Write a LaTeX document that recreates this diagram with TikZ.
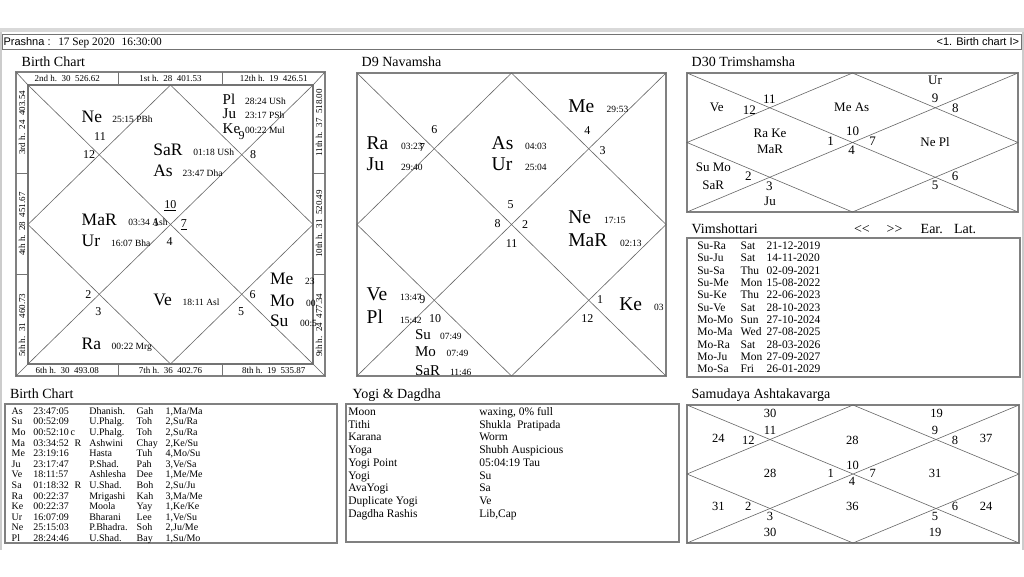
\documentclass[tikz,border=0pt]{standalone}
\usepackage{fontspec}
\setmainfont{Liberation Serif}
\newfontfamily\arialf{Liberation Sans}
\newcommand\fsz[1]{\fontsize{#1}{#1}\selectfont}
\newcommand\nichart[4]{%
  \draw[cl] (#1,#2) -- (#3,#4) (#3,#2) -- (#1,#4);
  \draw[cl] ({(#1+#3)/2},#2) -- (#3,{(#2+#4)/2}) -- ({(#1+#3)/2},#4) -- (#1,{(#2+#4)/2}) -- cycle;}
\newcommand\brow[7]{%
  \pgfmathsetmacro\yy{414.3+10.6*(#1-1)}%
  \node[tb] (bta#1) at (11.7,\yy) {#2};
  \node[tb] (btb#1) at (33.3,\yy) {#3};
  \node[tb] (btc#1) at (70.5,\yy) {#4};
  \node[tb] (btd#1) at (89.3,\yy) {#5};
  \node[tb] (bte#1) at (136.7,\yy) {#6};
  \node[tb] (btf#1) at (165.7,\yy) {#7};}
\newcommand\yrow[3]{%
  \pgfmathsetmacro\yy{415.5+12.7*(#1-1)}%
  \node[yt] (ya#1) at (348.3,\yy) {#2};
  \node[yt] (yb#1) at (479.3,\yy) {#3};}
\begin{document}
\begin{tikzpicture}[x=1pt,y=-1pt,
  every node/.style={inner sep=0pt,outer sep=0pt},
  ttl/.style={anchor=base west,font=\fsz{14}},
  big/.style={anchor=base west,font=\fsz{17.5}},
  medb/.style={anchor=base west,font=\fsz{15}},
  bigD/.style={anchor=base west,font=\fsz{19.5}},
  midD/.style={anchor=base west,font=\fsz{15}},
  sm/.style={anchor=base west,font=\fsz{9.5}},
  hn/.style={font=\fsz{12}},
  dn/.style={font=\fsz{13}},
  band/.style={font=\fsz{9}},
  tb/.style={anchor=base west,font=\fsz{10}},
  yt/.style={anchor=base west,font=\fsz{11.5}},
  vt/.style={anchor=base west,font=\fsz{11.5}},
  frame/.style={draw=black!50,line width=2.2pt},
  inframe/.style={draw=black!55,line width=1.2pt},
  boxf/.style={draw=black!50,line width=1.4pt},
  cl/.style={draw=black!60,line width=0.6pt}]
\useasboundingbox (0,0) rectangle (1024,576);
\fill[white] (0,0) rectangle (1024,576);
% window chrome
\fill[black!15] (0,28) rectangle (1024,32);
\draw[black!20,line width=2pt] (1,32) -- (1,550);
\draw[black!20,line width=2pt] (1023,32) -- (1023,550);
\draw[black!55,line width=0.8pt,fill=white] (2.5,34.5) rectangle (1021.5,49);
\node[anchor=base west,font=\arialf\fsz{11}] (prl) at (3.5,45) {Prashna :};
\node[anchor=base west,font=\fsz{11.3}] (prd) at (58.3,45) {17 Sep 2020};
\node[anchor=base west,font=\fsz{11.3}] (prt) at (121.7,45) {16:30:00};
\node[anchor=base east,font=\arialf\fsz{11}] (prr) at (1019,45) {<1. Birth chart I>};

% ===== Birth chart =====
\node[ttl] (t1) at (21.7,66.7) {Birth Chart};
\coordinate (oTL) at (16,72); \coordinate (oTR) at (325,72);
\coordinate (oBL) at (16,376); \coordinate (oBR) at (325,376);
\coordinate (iTL) at (28,85); \coordinate (iTR) at (313,85);
\coordinate (iBL) at (28,364); \coordinate (iBR) at (313,364);
\draw[frame] (oTL) rectangle (oBR);
\draw[inframe] (iTL) rectangle (iBR);
\draw[cl] (oTL) -- (iTL) (oTR) -- (iTR) (oBL) -- (iBL) (oBR) -- (iBR);
\draw[inframe,line width=0.8pt] (118.7,72) -- (118.7,85) (222.3,72) -- (222.3,85)
  (118.7,364) -- (118.7,376) (222.3,364) -- (222.3,376)
  (16,173.3) -- (28,173.3) (16,274.7) -- (28,274.7)
  (313,173.3) -- (325,173.3) (313,274.7) -- (325,274.7);
\nichart{28}{85}{313}{364}
% band labels
\node[band] (h2) at (67.3,78.7) {2nd h.~~30~~526.62};
\node[band] (h1) at (170.5,78.7) {1st h.~~28~~401.53};
\node[band] (h12) at (273.7,78.7) {12th h.~~19~~426.51};
\node[band] (h6) at (67.3,370.2) {6th h.~~30~~493.08};
\node[band] (h7) at (170.5,370.2) {7th h.~~36~~402.76};
\node[band] (h8) at (273.7,370.2) {8th h.~~19~~535.87};
\node[band,rotate=90] (h3) at (22,122.7) {3rd h.~~24~~403.54};
\node[band,rotate=90] (h4) at (22,224) {4th h.~~28~~451.67};
\node[band,rotate=90] (h5) at (22,325.3) {5th h.~~31~~460.73};
\node[band,rotate=90] (h11) at (319,122.7) {11th h.~~37~~518.00};
\node[band,rotate=90] (h10) at (319,224) {10th h.~~31~~520.49};
\node[band,rotate=90] (h9) at (319,325.3) {9th h.~~24~~477.34};
% house numbers
\node[hn] (bn11) at (100,137) {11};
\node[hn] (bn12) at (89,155) {12};
\node[hn] (bn9) at (241.7,135.7) {9};
\node[hn] (bn8) at (253,155) {8};
\node[hn] (bn10) at (170.3,205.8) {\underline{10}};
\node[hn] (bn7) at (183.8,225) {\underline{7}};
\node[hn] (bn1) at (156,223) {1};
\node[hn] (bn4) at (169.7,242) {4};
\node[hn] (bn2) at (88.3,294.7) {2};
\node[hn] (bn3) at (98.3,312) {3};
\node[hn] (bn6) at (252.7,294.7) {6};
\node[hn] (bn5) at (241,312) {5};
% planets
\node[big] (bNe) at (81.7,122.3) {Ne};   \node[sm] (bNes) at (112.3,122.3) {25:15 PBh};
\node[medb] (bPl) at (222.7,104) {Pl};   \node[sm] (bPls) at (245,104) {28:24 USh};
\node[medb] (bJu) at (222.7,118.7) {Ju}; \node[sm] (bJus) at (245,118.7) {23:17 PSh};
\node[medb] (bKe) at (222.7,133) {Ke};   \node[sm] (bKes) at (245,133) {00:22 Mul};
\node[big] (bSa) at (153.3,155.7) {SaR};  \node[sm] (bSas) at (193.3,155.7) {01:18 USh};
\node[big] (bAs) at (153.3,176.3) {As};   \node[sm] (bAss) at (182.7,176.3) {23:47 Dha};
\node[big] (bMa) at (81.7,225) {MaR};     \node[sm] (bMas) at (128.3,225) {03:34 Ash};
\node[big] (bUr) at (81.7,246) {Ur};      \node[sm] (bUrs) at (111,246) {16:07 Bha};
\node[big] (bVe) at (153.3,305) {Ve};     \node[sm] (bVes) at (182.7,305) {18:11 Asl};
\node[big] (bMe) at (270,284) {Me};       \node[sm] (bMes) at (305,284) {23};
\node[big] (bMo) at (270,306) {Mo};       \node[sm] (bMos) at (306,306) {00};
\node[big] (bSu) at (270,326) {Su};       \node[sm] (bSus) at (300,326) {00:5};
\node[big] (bRa) at (81.7,349.3) {Ra};    \node[sm] (bRas) at (111.7,349.3) {00:22 Mrg};

% ===== D9 =====
\node[ttl] (t2) at (361.7,66.7) {D9 Navamsha};
\draw[frame] (357,73) rectangle (666,376);
\nichart{357}{73}{666}{376}
\node[bigD] (dMe) at (568.3,112.7) {Me};  \node[sm] (dMes) at (606.7,112.7) {29:53};
\node[hn] (dn4) at (587.3,130.7) {4};
\node[hn] (dn3) at (602.7,150.7) {3};
\node[hn] (dn6) at (434.3,130) {6};
\node[bigD] (dRa) at (366.7,149.3) {Ra};  \node[sm] (dRas) at (401,149.3) {03:23};
\node[hn] (dn7) at (422,148) {7};
\node[bigD] (dJu) at (366.7,170.7) {Ju};  \node[sm] (dJus) at (401,170.7) {29:40};
\node[bigD] (dAs) at (491.7,149.3) {As};  \node[sm] (dAss) at (525,149.3) {04:03};
\node[bigD] (dUr) at (491.7,170.7) {Ur};  \node[sm] (dUrs) at (525,170.7) {25:04};
\node[hn] (dn5) at (510.7,205) {5};
\node[hn] (dn8) at (497.7,224) {8};
\node[hn] (dn2) at (525,225) {2};
\node[hn] (dn11) at (511.7,243.3) {11};
\node[bigD] (dNe) at (568.3,223.3) {Ne};  \node[sm] (dNes) at (604,223.3) {17:15};
\node[bigD] (dMa) at (568.3,246.7) {MaR}; \node[sm] (dMas) at (620,246.7) {02:13};
\node[bigD] (dVe) at (366.7,300.7) {Ve};  \node[sm] (dVes) at (400,300.7) {13:47};
\node[hn] (dn9) at (422.3,299.3) {9};
\node[bigD] (dPl) at (366.7,323.3) {Pl};  \node[sm] (dPls) at (400,323.3) {15:42};
\node[hn] (dn10) at (435,318.3) {10};
\node[midD] (dSu) at (415,339.3) {Su};    \node[sm] (dSus) at (440,339.3) {07:49};
\node[midD] (dMo) at (415,356.7) {Mo};    \node[sm] (dMos) at (446.7,356.7) {07:49};
\node[midD] (dSa) at (415,375.5) {SaR};   \node[sm] (dSas) at (450,375.5) {11:46};
\node[hn] (dn1) at (600,300) {1};
\node[hn] (dn12) at (587.3,318.3) {12};
\node[bigD] (dKe) at (619.3,310.7) {Ke};  \node[sm] (dKes) at (654,310.7) {03};

% ===== D30 =====
\node[ttl] (t3) at (691.7,66.7) {D30 Trimshamsha};
\draw[frame] (687,73) rectangle (1018,212);
\nichart{687}{73}{1018}{212}
\node[dn] (tUr) at (935,80.7) {Ur};
\node[dn] (tn9) at (935,98.3) {9};
\node[dn] (tn8) at (955.3,108.3) {8};
\node[dn] (tVe) at (716.7,107.3) {Ve};
\node[dn] (tn12) at (749.3,110) {12};
\node[dn] (tn11) at (769.3,99) {11};
\node[dn] (tMeAs) at (851.7,107.3) {Me As};
\node[dn] (tRaKe) at (770,133.3) {Ra Ke};
\node[dn] (tMaR) at (770,149.3) {MaR};
\node[dn] (tn10) at (852.7,131.7) {10};
\node[dn] (tn1) at (830.7,141.7) {1};
\node[dn] (tn7) at (872.7,141.7) {7};
\node[dn] (tn4) at (851.7,150.7) {4};
\node[dn] (tNePl) at (935,141.7) {Ne Pl};
\node[dn] (tSuMo) at (713.3,167.3) {Su Mo};
\node[dn] (tSaR) at (713.3,185) {SaR};
\node[dn] (tn2) at (748.3,175.7) {2};
\node[dn] (tn3) at (769.3,186) {3};
\node[dn] (tJu) at (770,201.7) {Ju};
\node[dn] (tn6) at (955,176) {6};
\node[dn] (tn5) at (935,185) {5};

% ===== Vimshottari =====
\node[ttl] (t4) at (691.7,233.3) {Vimshottari};
\node[ttl] (vl) at (854,233.3) {<{}<};
\node[ttl] (vr) at (886.7,233.3) {>{}>};
\node[ttl] (ve) at (920.7,233.3) {Ear.};
\node[ttl] (vla) at (954,233.3) {Lat.};
\draw[boxf] (687,238) rectangle (1020,377);
\foreach \a/\b/\c [count=\i] in {Su-Ra/Sat/21-12-2019,Su-Ju/Sat/14-11-2020,Su-Sa/Thu/02-09-2021,Su-Me/Mon/15-08-2022,Su-Ke/Thu/22-06-2023,Su-Ve/Sat/28-10-2023,Mo-Mo/Sun/27-10-2024,Mo-Ma/Wed/27-08-2025,Mo-Ra/Sat/28-03-2026,Mo-Ju/Mon/27-09-2027,Mo-Sa/Fri/26-01-2029}{
  \pgfmathsetmacro\yy{249.5+12.33*(\i-1)}
  \node[vt] (va\i) at (697.3,\yy) {\a};
  \node[vt] (vb\i) at (740.7,\yy) {\b};
  \node[vt] (vc\i) at (766.7,\yy) {\c};
}

% ===== Birth chart table =====
\node[ttl] (t5) at (10,398.3) {Birth Chart};
\draw[boxf] (5,404) rectangle (337,543);
\brow{1}{As}{23:47:05}{}{Dhanish.}{Gah}{1,Ma/Ma}
\brow{2}{Su}{00:52:09}{}{U.Phalg.}{Toh}{2,Su/Ra}
\brow{3}{Mo}{00:52:10}{c}{U.Phalg.}{Toh}{2,Su/Ra}
\brow{4}{Ma}{03:34:52}{\hspace{4pt}R}{Ashwini}{Chay}{2,Ke/Su}
\brow{5}{Me}{23:19:16}{}{Hasta}{Tuh}{4,Mo/Su}
\brow{6}{Ju}{23:17:47}{}{P.Shad.}{Pah}{3,Ve/Sa}
\brow{7}{Ve}{18:11:57}{}{Ashlesha}{Dee}{1,Me/Me}
\brow{8}{Sa}{01:18:32}{\hspace{4pt}R}{U.Shad.}{Boh}{2,Su/Ju}
\brow{9}{Ra}{00:22:37}{}{Mrigashi}{Kah}{3,Ma/Me}
\brow{10}{Ke}{00:22:37}{}{Moola}{Yay}{1,Ke/Ke}
\brow{11}{Ur}{16:07:09}{}{Bharani}{Lee}{1,Ve/Su}
\brow{12}{Ne}{25:15:03}{}{P.Bhadra.}{Soh}{2,Ju/Me}
\brow{13}{Pl}{28:24:46}{}{U.Shad.}{Bay}{1,Su/Mo}

% ===== Yogi & Dagdha =====
\node[ttl] (t6) at (352.7,398.3) {Yogi \& Dagdha};
\draw[boxf] (346,404) rectangle (679,542);
\yrow{1}{Moon}{waxing, 0\% full}
\yrow{2}{Tithi}{Shukla~~Pratipada}
\yrow{3}{Karana}{Worm}
\yrow{4}{Yoga}{Shubh Auspicious}
\yrow{5}{Yogi Point}{05:04:19 Tau}
\yrow{6}{Yogi}{Su}
\yrow{7}{AvaYogi}{Sa}
\yrow{8}{Duplicate Yogi}{Ve}
\yrow{9}{Dagdha Rashis}{Lib,Cap}

% ===== Samudaya Ashtakavarga =====
\node[ttl] (t7) at (691.7,398.3) {Samudaya Ashtakavarga};
\draw[frame] (687,405) rectangle (1019,543);
\nichart{687}{405}{1019}{543}
\foreach \t/\px/\py [count=\i] in {30/770/413.3,19/936.7/413.3,24/718.3/438.3,12/748.3/440,11/770/430.7,28/852.3/440,9/935/430.7,8/955/440,37/986/438.3,28/770/473.3,1/830.7/473.3,10/852.7/465,7/872.7/473.3,4/852/481.7,31/935/473.3,31/718.3/506.7,2/748.3/506.7,3/770/516,36/852.3/506.7,5/935/516,6/955/506.7,24/986/506.7,30/770/532.7,19/935/532.7}{
  \node[dn,font=\fsz{12.5}] (sa\i) at (\px,\py) {\t};
}
\end{tikzpicture}
\end{document}
